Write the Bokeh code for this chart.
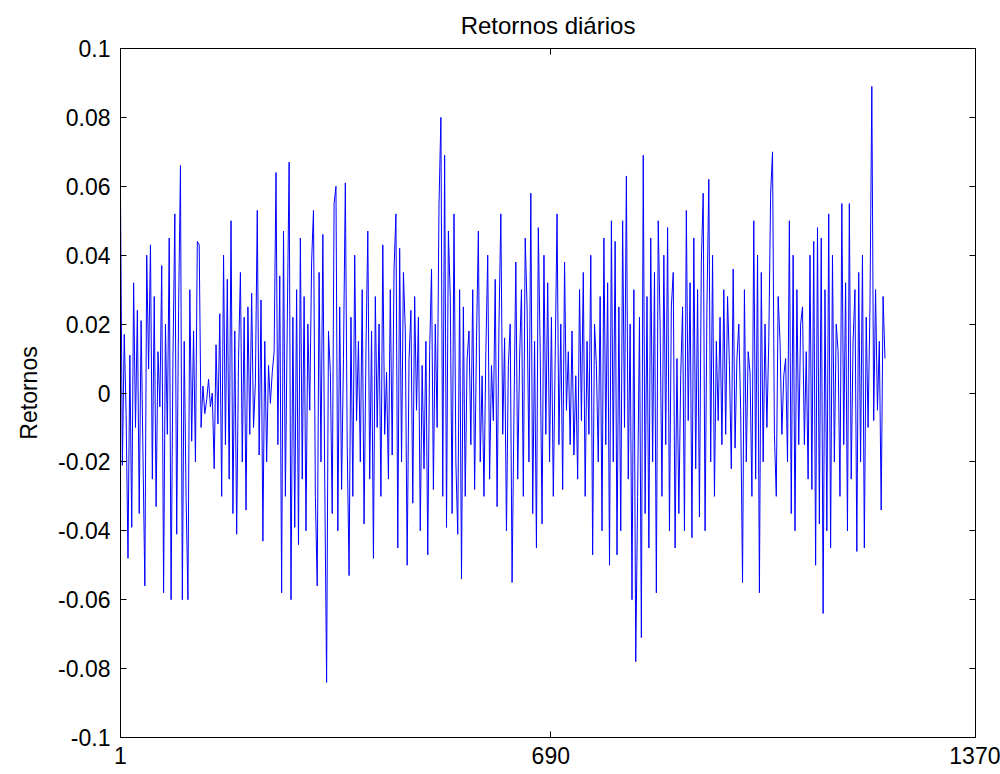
from bokeh.plotting import figure
from bokeh.models import LinearAxis, FixedTicker, CustomJSTickFormatter, Range1d
from bokeh.embed import file_html
from bokeh.resources import INLINE

# Daily returns (one reading every 3 trading days)
retornos = [
    0.057, -0.021, 0.017, -0.006, -0.048, 0.011, -0.039, 0.032, -0.010, 0.024, -0.035,
    0.021, -0.018, -0.056, 0.040, 0.007, 0.043, -0.025, 0.028, -0.033, 0.012, -0.004,
    0.037, -0.058, 0.020, -0.012, 0.045, -0.060, 0.010, 0.052, -0.041, 0.024,
    0.066, -0.060, 0.015, -0.030, -0.060, 0.030, -0.014, 0.018, -0.020, 0.044, 0.043,
    -0.010, 0.002, -0.006, -0.002, 0.004, -0.004, 0.000, -0.022, 0.014, -0.009, 0.023,
    -0.030, 0.040, -0.015, 0.033, -0.025, 0.050, -0.035, 0.018, -0.041, 0.010,
    0.035, -0.020, 0.022, -0.034, 0.025, -0.012, 0.029, -0.010, 0.003, 0.053, -0.018,
    0.027, -0.043, 0.015, -0.020, 0.008, -0.003, 0.006, 0.012, 0.064, -0.015, 0.034,
    -0.058, 0.047, -0.030, 0.020, 0.067, -0.060, 0.022, -0.039, 0.030, -0.044, 0.045,
    -0.025, 0.028, -0.040, 0.020, -0.005, 0.038, 0.053, -0.030, -0.056, 0.035,
    -0.020, 0.046, -0.025, -0.084, 0.018, 0.006, -0.035, 0.055, 0.060, -0.040, 0.025,
    -0.028, 0.010, 0.061, -0.015, -0.053, 0.022, -0.030, 0.040, -0.008, 0.015, -0.020,
    0.030, -0.038, 0.012, 0.047, -0.025, 0.018, -0.048, 0.028, -0.010, 0.020,
    -0.030, 0.043, -0.012, 0.006, -0.025, 0.030, -0.018, 0.036, 0.052, -0.045, 0.042,
    -0.020, 0.035, 0.018, -0.050, 0.010, 0.024, -0.032, 0.028, -0.005, 0.022, -0.040,
    0.008, -0.022, 0.015, -0.047, 0.012, 0.036, -0.028, 0.020, -0.010, 0.055, 0.080,
    -0.030, 0.069, -0.039, 0.047, 0.028, -0.035, 0.052, -0.020, -0.041, 0.030,
    -0.054, 0.025, -0.030, 0.010, 0.018, -0.015, 0.030, -0.028, 0.015, 0.047, -0.020,
    0.005, -0.030, 0.012, 0.040, -0.025, 0.008, -0.008, 0.033, -0.033, 0.020, 0.052,
    -0.012, 0.016, -0.040, 0.008, 0.020, -0.055, -0.006, 0.038, -0.025, 0.010,
    0.030, -0.030, 0.045, 0.025, -0.020, 0.058, -0.035, 0.015, -0.045, 0.048, 0.012,
    -0.038, 0.040, -0.012, 0.032, -0.020, 0.022, -0.030, 0.010, 0.052, -0.015,
    0.020, -0.028, 0.038, -0.005, 0.012, -0.015, 0.018, -0.018, 0.005, -0.025, 0.030,
    -0.008, 0.035, -0.030, 0.015, -0.012, 0.040, -0.047, 0.020, 0.008, -0.020, 0.028,
    -0.040, 0.045, -0.015, 0.032, -0.050, 0.050, -0.020, 0.044, -0.047, 0.025,
    -0.040, 0.050, -0.010, 0.063, -0.025, 0.020, -0.060, 0.030, -0.078, -0.030, 0.022,
    -0.071, 0.069, -0.035, 0.028, -0.045, 0.045, -0.020, 0.035, -0.058, 0.050, 0.020,
    -0.030, 0.040, -0.015, 0.048, -0.040, 0.025, 0.035, -0.045, 0.010, -0.035, 0.005,
    0.025, -0.040, 0.053, -0.008, 0.032, -0.042, 0.045, -0.022, 0.030, -0.036,
    0.038, 0.058, -0.040, 0.025, 0.062, -0.020, 0.040, -0.030, 0.015, -0.008, 0.022,
    -0.015, 0.030, -0.012, 0.028, 0.008, -0.022, 0.036, -0.016, 0.010, 0.020, -0.005,
    -0.055, 0.030, -0.020, 0.012, 0.006, -0.030, 0.050, -0.025, 0.040, -0.058,
    0.035, -0.020, 0.020, -0.010, 0.015, 0.058, 0.070, -0.012, -0.030, 0.028, 0.015,
    -0.012, 0.005, 0.010, -0.020, 0.050, -0.035, 0.040, -0.040, 0.030, -0.015, 0.020,
    0.025, -0.015, 0.012, -0.025, 0.040, -0.028, 0.044, -0.050, 0.048, -0.038,
    0.045, -0.064, 0.030, -0.040, 0.052, -0.045, 0.040, -0.020, 0.020, 0.012, -0.030,
    0.055, -0.015, 0.032, -0.040, 0.055, -0.025, 0.015, 0.030, -0.046, 0.035, -0.020,
    0.040, -0.045, 0.022, -0.010, 0.025, 0.089, -0.008, 0.030, -0.005, 0.015, -0.034, 0.028, 0.010,
]
dias = list(range(1, 1 + 3 * len(retornos), 3))

x_ticks = [1, 690, 1370]
y_ticks = [-0.1, -0.08, -0.06, -0.04, -0.02, 0.0, 0.02, 0.04, 0.06, 0.08, 0.1]

FONT = "Liberation Sans"

p = figure(width=1000, height=774, output_backend="svg", toolbar_location=None,
           x_range=Range1d(1, 1370), y_range=Range1d(-0.1, 0.1),
           min_border_left=120, min_border_right=25, min_border_top=48, min_border_bottom=37,
           title="Retornos diários")
p.title.align = "center"
p.title.text_font = FONT
p.title.text_font_size = "24px"
p.title.text_font_style = "normal"
p.title.text_color = "black"
p.title.standoff = 19

p.line(dias, retornos, line_color="#0000ff", line_width=1)

p.grid.visible = False
p.outline_line_color = "black"
p.outline_line_width = 1
p.background_fill_color = "white"
p.border_fill_color = "white"

fmt = CustomJSTickFormatter(code="""
var s = tick.toFixed(2);
if (s.indexOf('.') >= 0) { s = s.replace(/0+$/, '').replace(/\\.$/, ''); }
if (s === '-0') { s = '0'; }
return s;
""")

def style(ax, ticks, labels=True):
    ax.ticker = FixedTicker(ticks=ticks)
    ax.major_tick_in = 6
    ax.major_tick_out = 0
    ax.minor_tick_line_color = None
    ax.axis_line_color = "black"
    ax.major_tick_line_color = "black"
    ax.major_label_text_font = FONT
    if labels:
        ax.major_label_text_font_size = "23px"
        ax.major_label_text_color = "black"
    else:
        ax.major_label_text_font_size = "1px"
        ax.major_label_text_color = None
        ax.major_label_standoff = 0

xb = p.xaxis[0]
style(xb, x_ticks)
xb.major_label_standoff = 9

yl = p.yaxis[0]
style(yl, y_ticks)
yl.formatter = fmt
yl.major_label_standoff = 10
yl.axis_label = "Retornos"
yl.axis_label_text_font = FONT
yl.axis_label_text_font_size = "23px"
yl.axis_label_text_font_style = "normal"
yl.axis_label_text_color = "black"
yl.axis_label_standoff = 13

xt = LinearAxis()
style(xt, x_ticks, labels=False)
p.add_layout(xt, "above")

yr = LinearAxis()
style(yr, y_ticks, labels=False)
p.add_layout(yr, "right")

open("out.html", "w").write(file_html(p, INLINE))
